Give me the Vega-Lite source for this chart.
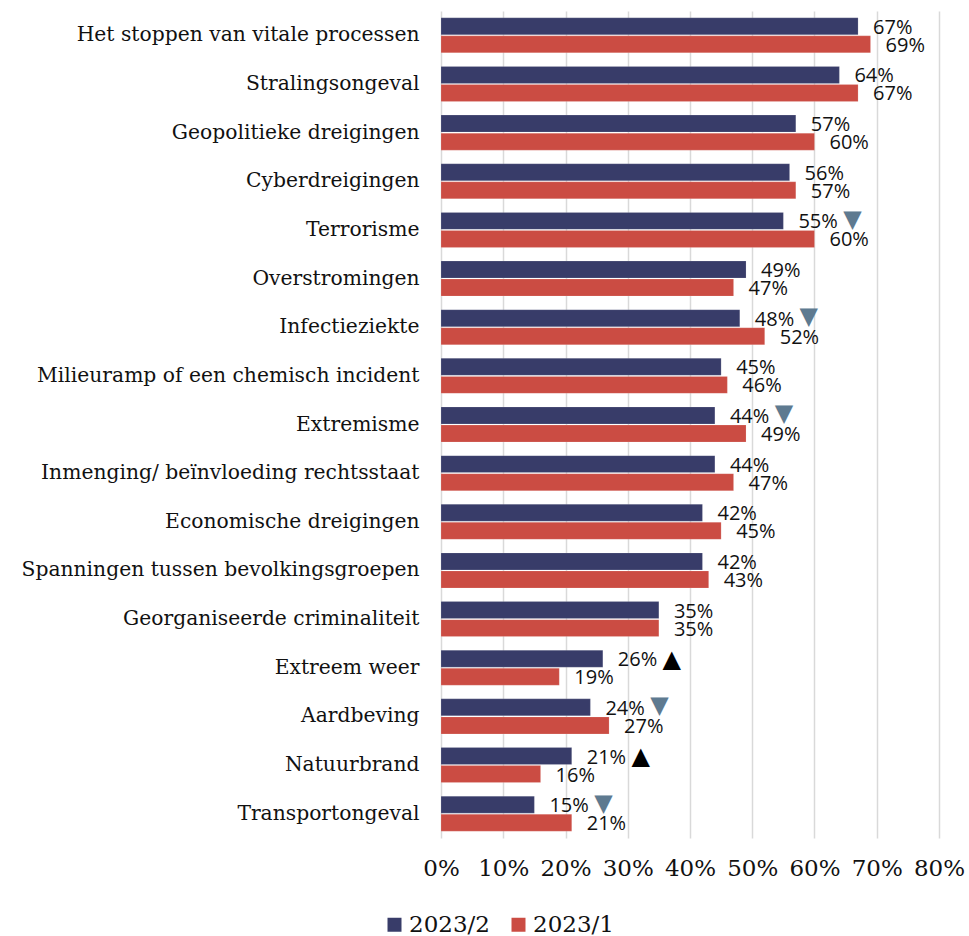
{
  "$schema": "https://vega.github.io/schema/vega-lite/v6.json",
  "autosize": "none",
  "padding": {"left": 441, "top": 11, "right": 30, "bottom": 98},
  "width": 498,
  "height": 827,
  "background": "white",
  "config": {"view": {"stroke": null}},
  "data": {"values": [
    {"cat": "Het stoppen van vitale processen", "series": "2023/2", "value": 0.67},
    {"cat": "Het stoppen van vitale processen", "series": "2023/1", "value": 0.69},
    {"cat": "Stralingsongeval", "series": "2023/2", "value": 0.64},
    {"cat": "Stralingsongeval", "series": "2023/1", "value": 0.67},
    {"cat": "Geopolitieke dreigingen", "series": "2023/2", "value": 0.57},
    {"cat": "Geopolitieke dreigingen", "series": "2023/1", "value": 0.60},
    {"cat": "Cyberdreigingen", "series": "2023/2", "value": 0.56},
    {"cat": "Cyberdreigingen", "series": "2023/1", "value": 0.57},
    {"cat": "Terrorisme", "series": "2023/2", "value": 0.55, "trend": "down"},
    {"cat": "Terrorisme", "series": "2023/1", "value": 0.60},
    {"cat": "Overstromingen", "series": "2023/2", "value": 0.49},
    {"cat": "Overstromingen", "series": "2023/1", "value": 0.47},
    {"cat": "Infectieziekte", "series": "2023/2", "value": 0.48, "trend": "down"},
    {"cat": "Infectieziekte", "series": "2023/1", "value": 0.52},
    {"cat": "Milieuramp of een chemisch incident", "series": "2023/2", "value": 0.45},
    {"cat": "Milieuramp of een chemisch incident", "series": "2023/1", "value": 0.46},
    {"cat": "Extremisme", "series": "2023/2", "value": 0.44, "trend": "down"},
    {"cat": "Extremisme", "series": "2023/1", "value": 0.49},
    {"cat": "Inmenging/ beïnvloeding rechtsstaat", "series": "2023/2", "value": 0.44},
    {"cat": "Inmenging/ beïnvloeding rechtsstaat", "series": "2023/1", "value": 0.47},
    {"cat": "Economische dreigingen", "series": "2023/2", "value": 0.42},
    {"cat": "Economische dreigingen", "series": "2023/1", "value": 0.45},
    {"cat": "Spanningen tussen bevolkingsgroepen", "series": "2023/2", "value": 0.42},
    {"cat": "Spanningen tussen bevolkingsgroepen", "series": "2023/1", "value": 0.43},
    {"cat": "Georganiseerde criminaliteit", "series": "2023/2", "value": 0.35},
    {"cat": "Georganiseerde criminaliteit", "series": "2023/1", "value": 0.35},
    {"cat": "Extreem weer ", "series": "2023/2", "value": 0.26, "trend": "up"},
    {"cat": "Extreem weer ", "series": "2023/1", "value": 0.19},
    {"cat": "Aardbeving", "series": "2023/2", "value": 0.24, "trend": "down"},
    {"cat": "Aardbeving", "series": "2023/1", "value": 0.27},
    {"cat": "Natuurbrand", "series": "2023/2", "value": 0.21, "trend": "up"},
    {"cat": "Natuurbrand", "series": "2023/1", "value": 0.16},
    {"cat": "Transportongeval", "series": "2023/2", "value": 0.15, "trend": "down"},
    {"cat": "Transportongeval", "series": "2023/1", "value": 0.21}
  ]},
  "encoding": {
    "y": {
      "field": "cat", "type": "nominal", "sort": null,
      "scale": {"paddingInner": 0.28, "paddingOuter": 0.14},
      "axis": {"title": null, "ticks": false, "domain": false, "labelPadding": 22,
               "labelFont": "DejaVu Serif", "labelFontSize": 20.3, "labelColor": "#111111", "labelLimit": 440}
    },
    "x": {
      "field": "value", "type": "quantitative",
      "scale": {"domain": [0, 0.8], "nice": false},
      "axis": {"title": null, "format": ".0%", "values": [0, 0.1, 0.2, 0.3, 0.4, 0.5, 0.6, 0.7, 0.8],
               "ticks": false, "domain": false, "labelPadding": 19,
               "labelFont": "DejaVu Serif", "labelFontSize": 23, "labelColor": "#111111",
               "gridColor": "#d9d9d9", "gridWidth": 1.5, "labelFlush": false}
    },
    "yOffset": {"field": "series", "type": "nominal", "sort": ["2023/2", "2023/1"], "scale": {"paddingInner": 0.06}}
  },
  "layer": [
    {
      "mark": {"type": "bar", "stroke": "#ffffff", "strokeOpacity": 0.3, "strokeWidth": 0.5},
      "encoding": {
        "color": {"field": "series", "type": "nominal",
                  "scale": {"domain": ["2023/2", "2023/1"], "range": ["#383c69", "#cb4c43"]},
                  "legend": {"title": null, "orient": "none", "direction": "horizontal",
                             "legendX": -58, "legendY": 902, "symbolType": "square", "symbolSize": 196,
                             "symbolStrokeWidth": 0, "labelFont": "DejaVu Serif", "labelFontSize": 23,
                             "labelColor": "#111111", "columnPadding": 17, "labelOffset": 3}}
      }
    },
    {
      "mark": {"type": "text", "align": "left", "baseline": "middle", "dx": 15, "dy": 1.5,
               "font": "Open Sans", "fontSize": 20, "color": "#111111"},
      "encoding": {"text": {"field": "value", "type": "quantitative", "format": ".0%"}}
    },
    {
      "transform": [{"filter": "datum.trend === 'down'"}],
      "mark": {"type": "text", "text": "▼", "align": "center", "baseline": "middle", "dx": 69, "dy": -1,
               "font": "DejaVu Sans", "fontSize": 24, "color": "#5e7a90"}
    },
    {
      "transform": [{"filter": "datum.trend === 'up'"}],
      "mark": {"type": "text", "text": "▲", "align": "center", "baseline": "middle", "dx": 69, "dy": 1,
               "font": "DejaVu Sans", "fontSize": 24, "color": "#000000"}
    }
  ]
}
